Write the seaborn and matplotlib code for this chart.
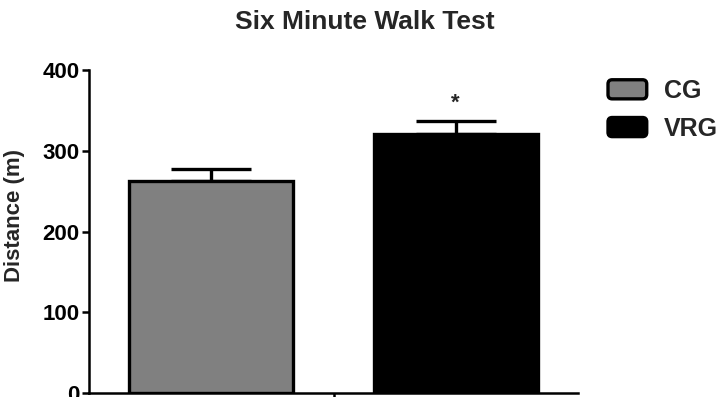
import matplotlib
matplotlib.use("Agg")
import matplotlib.pyplot as plt
import seaborn as sns
import pandas as pd
from matplotlib.patches import Patch, FancyBboxPatch
from matplotlib.legend_handler import HandlerPatch

title = "Six Minute Walk Test"
groups = ["CG", "VRG"]
means = [263, 321]
sems = [15, 16]
colors = ["#808080", "#000000"]
yticks = [0, 100, 200, 300, 400]
ylabel = "Distance (m)"

sns.set_style("ticks")
plt.rcParams['font.family'] = ['Liberation Sans', 'DejaVu Sans']
plt.rcParams['font.weight'] = 'bold'

fig = plt.figure(figsize=(7.25, 3.97), dpi=100)
ax = fig.add_axes([89/725, 4/397, (578-89)/725, (393-70)/397])

df = pd.DataFrame({"test": [""] * len(groups), "group": groups, "distance": means})
sns.barplot(data=df, x="test", y="distance", hue="group", palette=colors,
            width=1.0, gap=0.33, edgecolor="black", linewidth=2.4,
            errorbar=None, legend=False, ax=ax, zorder=3)

bars = ax.patches[:len(groups)]
for p, m, s in zip(bars, means, sems):
    xc = p.get_x() + p.get_width() / 2
    ax.errorbar(xc, m, yerr=[[0], [s]], fmt="none", ecolor="black",
                elinewidth=2.4, capsize=29, capthick=2.4, zorder=2)

# significance asterisk above VRG
vx = bars[1].get_x() + bars[1].get_width() / 2
ax.text(vx, means[1] + sems[1] + 9, "*", ha="center", va="bottom",
        fontsize=16, fontweight="bold")

ax.set_ylim(0, 400)
ax.set_xlim(-0.5, 0.5)
ax.set_yticks(yticks)
ax.set_yticklabels([str(t) for t in yticks], fontweight="bold")
ax.set_xticks([0])
ax.set_xticklabels([""])
ax.set_xlabel("")
ax.set_ylabel(ylabel, fontsize=16, fontweight="bold")
ax.yaxis.set_label_coords(-0.13, 0.551)
for side in ["top", "right"]:
    ax.spines[side].set_visible(False)
for side in ["left", "bottom"]:
    ax.spines[side].set_linewidth(1.8)
    ax.spines[side].set_color("black")
ax.tick_params(axis="both", direction="out", length=5, width=1.8,
               colors="black", labelsize=16, pad=2)

fig.text(0.503, 1 - 22/397, title, ha="center", va="center",
         fontsize=19, fontweight="bold")


def round_patch(legend, orig_handle, xdescent, ydescent, width, height, fontsize):
    return FancyBboxPatch((-xdescent, -ydescent), width, height,
                          boxstyle="round,pad=0,rounding_size=3")


handles = [Patch(facecolor=c, edgecolor="black", linewidth=2.4) for c in colors]
leg = fig.legend(handles, groups, loc="upper left",
                 bbox_to_anchor=(608/725, 1 - 79/397), frameon=False,
                 fontsize=18, handlelength=1.55, handleheight=0.8,
                 labelspacing=0.55, handletextpad=0.7, borderpad=0,
                 borderaxespad=0,
                 handler_map={Patch: HandlerPatch(patch_func=round_patch)})
for t in leg.get_texts():
    t.set_fontweight("bold")

fig.savefig("out.png", dpi=100)
